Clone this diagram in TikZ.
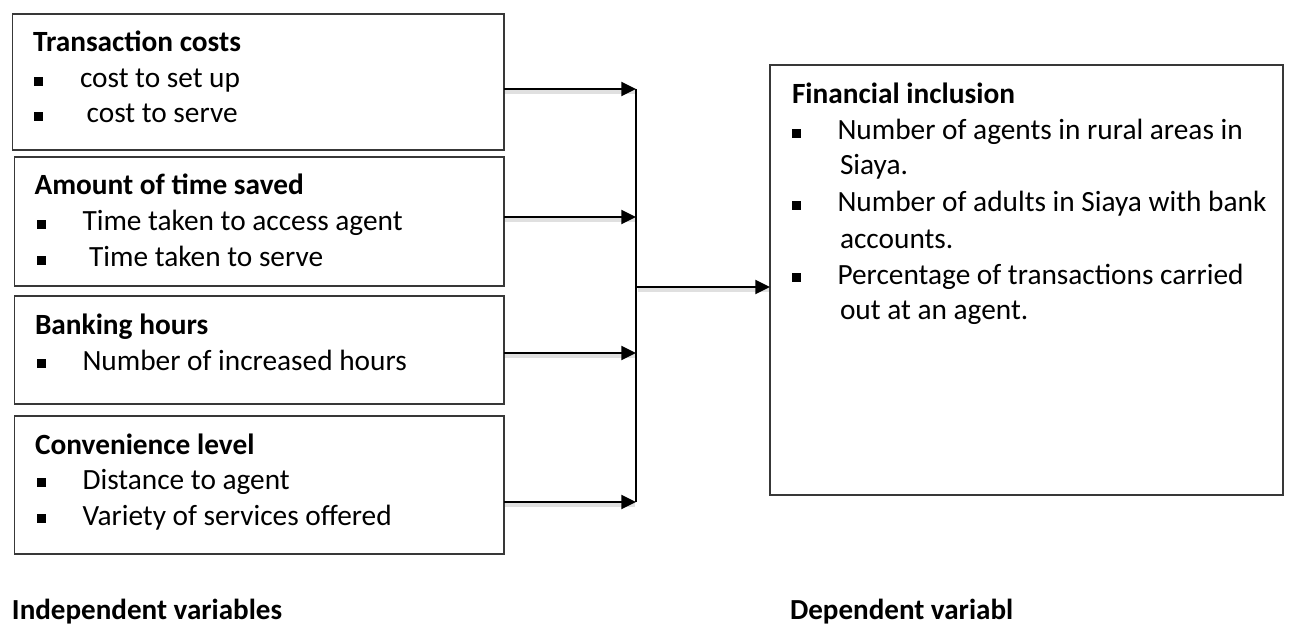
\documentclass[tikz,border=0pt]{standalone}
\usepackage{fontspec}
\setmainfont{Carlito}
\usetikzlibrary{arrows.meta}
\newcommand{\bsq}{\rule[1.8pt]{6.8pt}{6.8pt}}
\newcommand{\bitem}[1]{\makebox[34.5pt][l]{\bsq}#1}
\begin{document}
\begin{tikzpicture}[x=0.75pt,y=-0.75pt,
  box/.style={draw=black!78,line width=0.9pt,inner sep=0pt,outer sep=0pt,anchor=north west},
  txt/.style={anchor=base west,inner sep=0pt,outer sep=0pt,font=\fontsize{22}{26}\selectfont},
  ttl/.style={anchor=base west,inner sep=0pt,outer sep=0pt,font=\fontsize{22}{26}\selectfont\bfseries},
  lbl/.style={anchor=base west,inner sep=0pt,outer sep=0pt,font=\fontsize{21.8}{26}\selectfont\bfseries},
  arr/.style={line width=1.6pt,-{Triangle[length=11pt,width=10.5pt]}},
  arrsh/.style={line width=2.4pt,draw=black,opacity=0.12,shorten >=2pt},
  vline/.style={line width=0.8pt}]
\useasboundingbox (0,0) rectangle (1295,627);

% boxes
\node[box,minimum width=368.6pt,minimum height=102pt] (b1) at (12.5,14) {};
\node[box,minimum width=367.1pt,minimum height=96.75pt] (b2) at (14.5,157) {};
\node[box,minimum width=367.1pt,minimum height=81pt] (b3) at (14.5,296) {};
\node[box,minimum width=367.1pt,minimum height=103.5pt] (b4) at (14.5,416) {};
\node[box,minimum width=384.75pt,minimum height=322.5pt] (fi) at (770,65) {};

% box 1
\node[ttl] (t1) at (33,52) {Transaction costs};
\node[txt] (t1a) at (34,88) {\bitem{cost to set up}};
\node[txt] (t1b) at (34,123) {\bitem{\ cost to serve}};
% box 2
\node[ttl] (t2) at (34.5,195) {Amount of time saved};
\node[txt] (t2a) at (36.5,231) {\bitem{Time taken to access agent}};
\node[txt] (t2b) at (36.5,267) {\bitem{\ Time taken to serve}};
% box 3
\node[ttl] (t3) at (35,334) {Banking hours};
\node[txt] (t3a) at (36.5,370) {\bitem{Number of increased hours}};
% box 4
\node[ttl] (t4) at (35,454) {Convenience level};
\node[txt] (t4a) at (36.5,489) {\bitem{Distance to agent}};
\node[txt] (t4b) at (36.5,525) {\bitem{Variety of services offered}};
% right box
\node[ttl] (tf) at (792,104) {Financial inclusion};
\node[txt] (tf1) at (791.5,140) {\bitem{Number of agents in rural areas in}};
\node[txt] (tf1b) at (840,175) {Siaya.};
\node[txt] (tf2) at (791.5,212) {\bitem{Number of adults in Siaya with bank}};
\node[txt] (tf2b) at (840,248) {accounts.};
\node[txt] (tf3) at (791.5,284) {\bitem{Percentage of transactions carried}};
\node[txt] (tf3b) at (840,320) {out at an agent.};

% bottom labels
\node[lbl] (ind) at (12,619) {Independent variables};
\node[lbl] (dep) at (790,619) {Dependent variabl};

% connectors
\coordinate (j1) at (636,89);
\coordinate (j2) at (636,217);
\coordinate (j3) at (636,353);
\coordinate (j4) at (636,502);
\coordinate (jm) at (636,287);
\foreach \b/\j in {b1/j1,b2/j2,b3/j3,b4/j4}{
  \draw[arrsh] ([shift={(1.5,3)}]\b.east |- \j) -- ([shift={(1.5,3)}]\j);
  \draw[arr] (\b.east |- \j) -- (\j);
}
\draw[arrsh] ([shift={(1.5,3)}]jm) -- ([shift={(1.5,3)}]fi.west |- jm);
\draw[arr] (jm) -- (fi.west |- jm);
\draw[vline] (j1) -- (j4);
\end{tikzpicture}
\end{document}
